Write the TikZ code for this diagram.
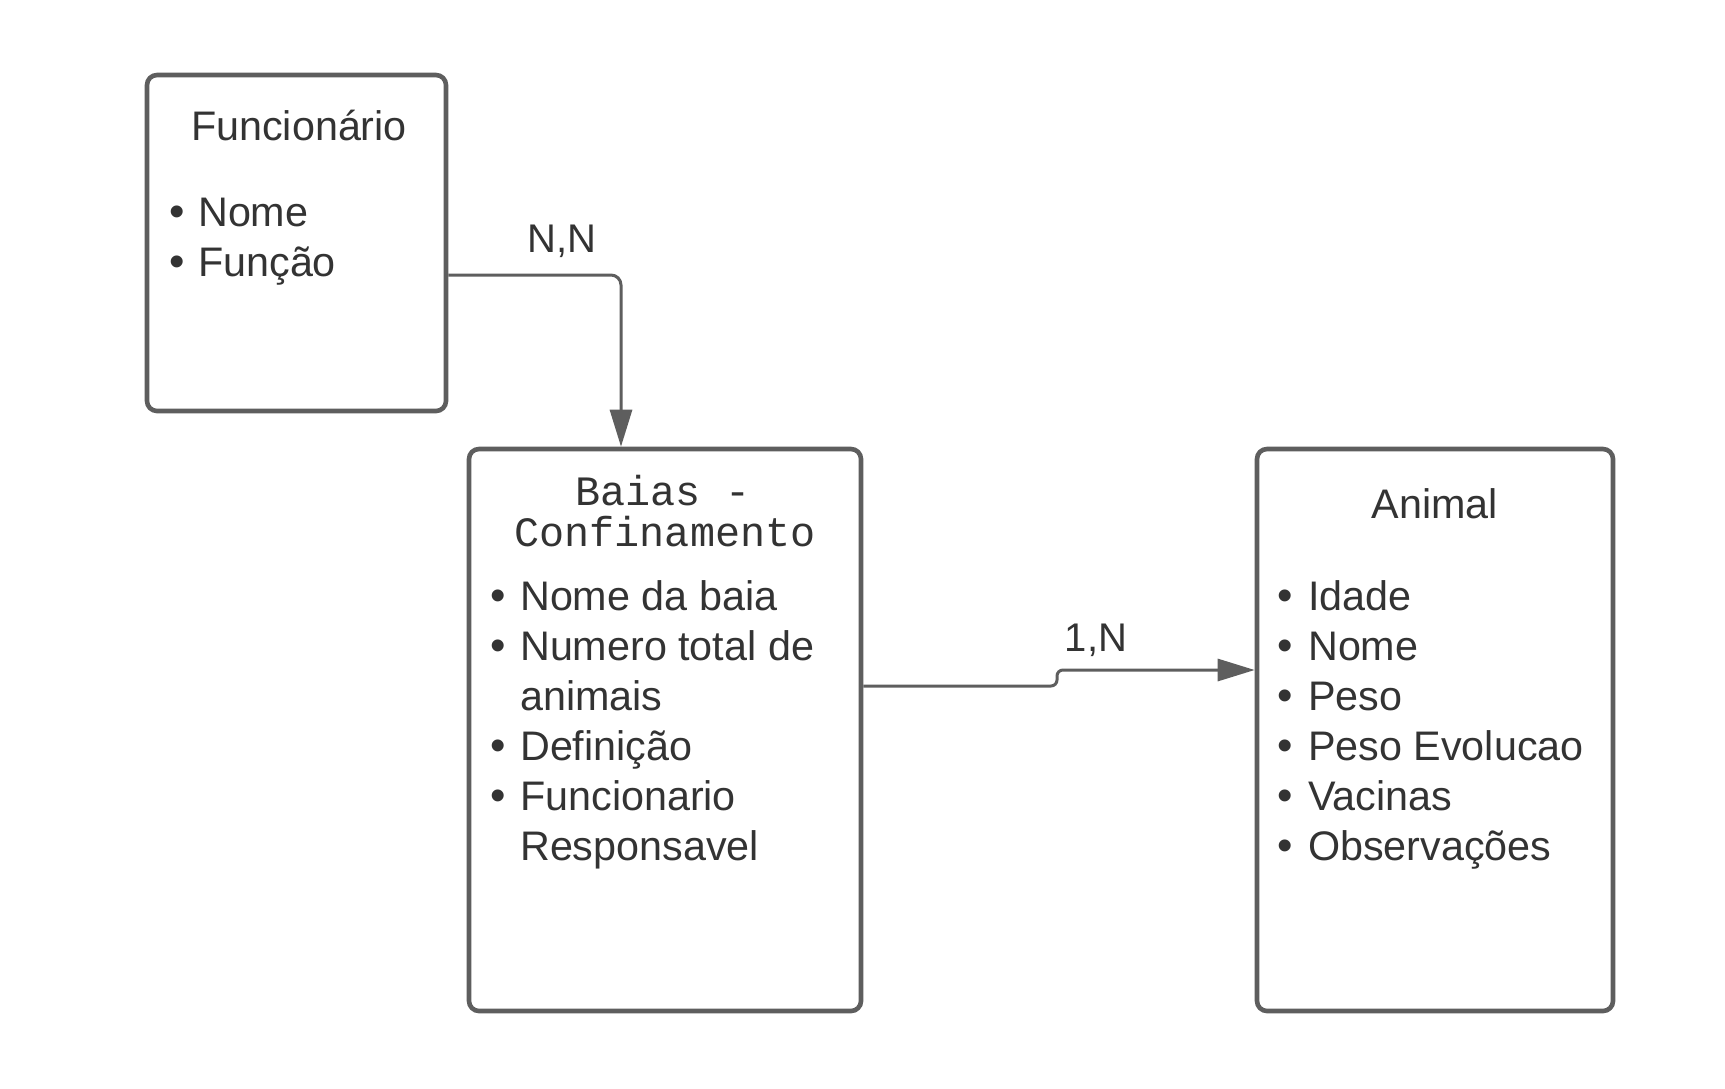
\documentclass[tikz,border=0pt]{standalone}
\usepackage{fontspec}
\setmainfont{Liberation Sans}
\newfontfamily\monof{Liberation Mono}
\usetikzlibrary{arrows.meta}
\definecolor{linec}{HTML}{5E5E5E}
\definecolor{textc}{HTML}{333333}
\tikzset{
  entity/.style={draw=linec, line width=4.6pt, rounded corners=10pt, fill=white, inner sep=0pt},
  conn/.style={draw=linec, line width=3pt, -{Triangle[length=37pt,width=22pt]}},
  txt/.style={anchor=base west, inner sep=0pt, text=textc, font=\fontsize{41.3}{50}\selectfont},
  ttl/.style={anchor=base, inner sep=0pt, text=textc, font=\fontsize{41.3}{50}\selectfont},
  mttl/.style={anchor=base, inner sep=0pt, text=textc, font=\monof\fontsize{41.8}{42}\selectfont},
  bul/.style={anchor=base, inner sep=0pt, text=textc, font=\fontsize{44}{50}\selectfont},
  lbl/.style={anchor=base, inner sep=0pt, text=textc, font=\fontsize{40}{48}\selectfont},
}
\begin{document}
\begin{tikzpicture}[x=1pt,y=-1pt]
\useasboundingbox[fill=white] (0,0) rectangle (1725,1088);
% boxes
\node[entity, minimum width=299pt, minimum height=336pt] (func) at (296.5,243) {};
\node[entity, minimum width=392pt, minimum height=562pt] (baias) at (665,730) {};
\node[entity, minimum width=356pt, minimum height=562pt] (animal) at (1435,730) {};
% Funcionario
\node[ttl] (ft) at (299,140) {Funcionário};
\node[bul] (fb1) at (177,226.7) {•};
\node[txt] (f1) at (198,226.7) {Nome};
\node[bul] (fb2) at (177,276.7) {•};
\node[txt] (f2) at (198,276.7) {Função};
% Baias
\node[mttl] (bt1) at (663,505) {Baias -};
\node[mttl] (bt2) at (665,546.7) {Confinamento};
\node[bul] (bb1) at (498,610.7) {•};
\node[txt] (b1) at (520,610.7) {Nome da baia};
\node[bul] (bb2) at (498,660.7) {•};
\node[txt] (b2) at (520,660.7) {Numero total de};
\node[txt] (b2b) at (520,710.7) {animais};
\node[bul] (bb3) at (498,760.7) {•};
\node[txt] (b3) at (520,760.7) {Definição};
\node[bul] (bb4) at (498,810.7) {•};
\node[txt] (b4) at (520,810.7) {Funcionario};
\node[txt] (b4b) at (520,860.7) {Responsavel};
% Animal
\node[ttl] (at) at (1435,518) {Animal};
\node[bul] (ab1) at (1285,610.7) {•};
\node[txt] (a1) at (1308,610.7) {Idade};
\node[bul] (ab2) at (1285,660.7) {•};
\node[txt] (a2) at (1308,660.7) {Nome};
\node[bul] (ab3) at (1285,710.7) {•};
\node[txt] (a3) at (1308,710.7) {Peso};
\node[bul] (ab4) at (1285,760.7) {•};
\node[txt] (a4) at (1308,760.7) {Peso Evolucao};
\node[bul] (ab5) at (1285,810.7) {•};
\node[txt] (a5) at (1308,810.7) {Vacinas};
\node[bul] (ab6) at (1285,860.7) {•};
\node[txt] (a6) at (1308,860.7) {Observações};
% connectors
\coordinate (j1) at (1057,686);
\coordinate (j2) at (1057,670);
\draw[conn, rounded corners=10pt] ([yshift=-32pt]func.east) -| ([xshift=-44pt]baias.north);
\draw[conn, rounded corners=6pt] ([yshift=44pt]baias.east) -- (j1) -- (j2) -- ([yshift=60pt]animal.west);
% labels
\node[lbl] (l1) at (561.7,252.7) {N,N};
\node[lbl] (l2) at (1096,651.7) {1,N};
\end{tikzpicture}
\end{document}
